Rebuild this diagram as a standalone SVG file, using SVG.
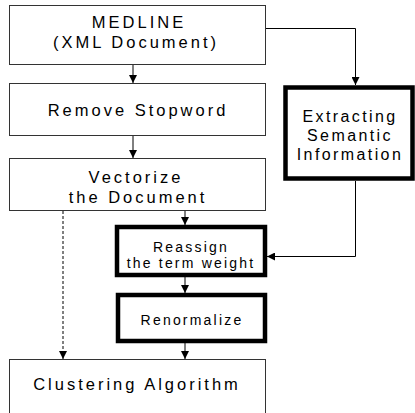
<svg xmlns="http://www.w3.org/2000/svg" width="415" height="413" viewBox="0 0 415 413">
<defs>
<style>
.thin{fill:#fff;stroke:#333;stroke-width:1}
.thick{fill:#fff;stroke:#000;stroke-width:4.5}
.t{font-family:"Liberation Sans",Arial,sans-serif;font-size:16.5px;letter-spacing:3px;fill:#000;text-anchor:middle}
.s{font-family:"Liberation Sans",Arial,sans-serif;font-size:14px;letter-spacing:2.2px;fill:#000;text-anchor:middle}
.e{font-family:"Liberation Sans",Arial,sans-serif;font-size:16px;letter-spacing:2.4px;fill:#000;text-anchor:middle}
.c{fill:none;stroke:#000;stroke-width:1}
.d{fill:none;stroke:#000;stroke-width:1;stroke-dasharray:3 2}
</style>
<marker id="ah" markerUnits="userSpaceOnUse" markerWidth="8" markerHeight="8" viewBox="0 0 8 8" refX="8" refY="4" orient="auto">
<path d="M0,0 L8,4 L0,8 Z" fill="#000"/>
</marker>
</defs>
<g id="medline">
<rect class="thin" x="9.5" y="5.5" width="256" height="59"/>
<text class="t" x="139" y="28">MEDLINE</text>
<text class="t" x="136" y="48">(XML Document)</text>
</g>
<g id="remove">
<rect class="thin" x="9.5" y="83.5" width="256" height="52"/>
<text class="t" x="138" y="116">Remove Stopword</text>
</g>
<g id="vectorize">
<rect class="thin" x="9.5" y="158.5" width="256" height="52"/>
<text class="t" x="136" y="183">Vectorize</text>
<text class="t" x="138" y="203">the Document</text>
</g>
<g id="extracting">
<rect class="thick" x="285.5" y="87.5" width="127" height="91"/>
<text class="e" x="350" y="122">Extracting</text>
<text class="e" x="350" y="141">Semantic</text>
<text class="e" x="350" y="160">Information</text>
</g>
<g id="reassign">
<rect class="thick" x="117" y="227" width="148" height="48"/>
<text class="s" x="191" y="252">Reassign</text>
<text class="s" x="191" y="268">the term weight</text>
</g>
<g id="renormalize">
<rect class="thick" x="118" y="295" width="147" height="46"/>
<text class="s" x="192" y="325">Renormalize</text>
</g>
<g id="clustering">
<rect class="thin" x="9.5" y="359.5" width="256" height="70"/>
<text class="t" x="137" y="390">Clustering Algorithm</text>
</g>
<g id="connectors">
<line class="c" x1="133" y1="65" x2="133" y2="83" marker-end="url(#ah)"/>
<line class="c" x1="133" y1="136" x2="133" y2="158" marker-end="url(#ah)"/>
<line class="c" x1="185" y1="211" x2="185" y2="225" marker-end="url(#ah)"/>
<line class="c" x1="185" y1="277" x2="185" y2="293" marker-end="url(#ah)"/>
<line class="c" x1="185" y1="343" x2="185" y2="359" marker-end="url(#ah)"/>
<line class="d" x1="63" y1="211" x2="63" y2="359" marker-end="url(#ah)"/>
<path class="c" d="M266,28.5 H355.5 V85" marker-end="url(#ah)"/>
<path class="c" d="M355.5,181 V256.5 H267" marker-end="url(#ah)"/>
</g>
</svg>
